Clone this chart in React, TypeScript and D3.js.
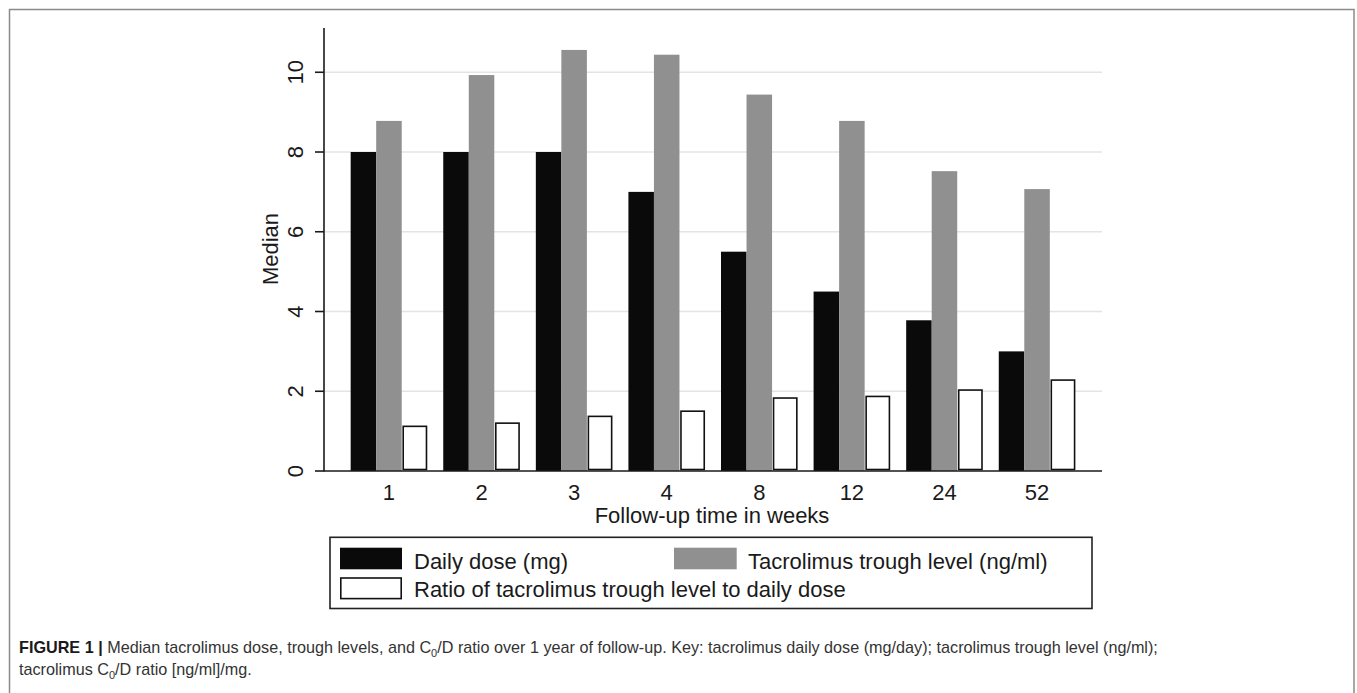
import React from 'react';
import * as d3 from 'd3';

const weeks = ['1', '2', '3', '4', '8', '12', '24', '52'];
const dailyDose = [8, 8, 8, 7, 5.5, 4.5, 3.78, 3];
const troughLevel = [8.78, 9.93, 10.56, 10.44, 9.44, 8.78, 7.52, 7.07];
const ratioLevel = [1.12, 1.2, 1.37, 1.5, 1.83, 1.87, 2.03, 2.28];
const yTicks = [0, 2, 4, 6, 8, 10];
const seriesKeys = ['dose', 'trough', 'ratio'];
const seriesLabels = [
  'Daily dose (mg)',
  'Tacrolimus trough level (ng/ml)',
  'Ratio of tacrolimus trough level to daily dose',
];
const seriesValues = [dailyDose, troughLevel, ratioLevel];
const seriesFill = ['#0a0a0a', '#909090', '#ffffff'];

const W = 1357;
const H = 693;
const FONT = '"Liberation Sans", Arial, sans-serif';

export default function App() {
  const x0 = d3
    .scaleBand<string>()
    .domain(weeks)
    .range([324, 1102])
    .paddingInner(0.173)
    .paddingOuter(0.288);
  const x1 = d3
    .scaleBand<string>()
    .domain(seriesKeys)
    .range([0, x0.bandwidth()])
    .padding(0);
  const y = d3.scaleLinear().domain([0, 11.1]).range([471, 28.4]);

  const plotLeft = 324;
  const plotRight = 1102;

  return (
    <svg
      width={W}
      height={H}
      viewBox={`0 0 ${W} ${H}`}
      style={{ position: 'absolute', left: 0, top: 0, background: '#fff' }}
      fontFamily={FONT}
    >
      <rect x={0} y={0} width={W} height={H} fill="#fff" />
      {/* outer frame */}
      <rect x={9.5} y={9.5} width={1344.5} height={800} fill="none" stroke="#8a8a8a" strokeWidth={1.5} />

      {/* gridlines */}
      {yTicks
        .filter((t) => t > 0)
        .map((t) => (
          <line key={`g${t}`} x1={plotLeft + 1} x2={plotRight} y1={y(t)} y2={y(t)} stroke="#e4e4e4" strokeWidth={1.5} />
        ))}

      {/* bars */}
      {weeks.map((w, i) => (
        <g key={w} transform={`translate(${x0(w)},0)`}>
          {seriesKeys.map((k, si) => {
            const v = seriesValues[si][i];
            const bx = x1(k)!;
            const bw = x1.bandwidth();
            if (k === 'ratio') {
              return (
                <rect
                  key={k}
                  x={bx + 1.5}
                  y={y(v)}
                  width={bw - 2.25}
                  height={y(0) - y(v) - 1.5}
                  fill="#fff"
                  stroke="#111"
                  strokeWidth={1.6}
                />
              );
            }
            return (
              <rect key={k} x={bx} y={y(v)} width={bw} height={y(0) - y(v)} fill={seriesFill[si]} />
            );
          })}
        </g>
      ))}

      {/* axes */}
      <line x1={plotLeft} x2={plotLeft} y1={28} y2={471.5} stroke="#1a1a1a" strokeWidth={1.6} />
      <line x1={plotLeft} x2={plotRight} y1={471} y2={471} stroke="#1a1a1a" strokeWidth={1.6} />
      {yTicks.map((t) => (
        <g key={`t${t}`}>
          <line x1={315} x2={plotLeft} y1={y(t)} y2={y(t)} stroke="#1a1a1a" strokeWidth={1.6} />
          <text
            transform={`translate(303,${y(t)}) rotate(-90)`}
            textAnchor="middle"
            fontSize={22}
            fill="#1a1a1a"
          >
            {t}
          </text>
        </g>
      ))}
      <text transform="translate(278,249) rotate(-90)" textAnchor="middle" fontSize={22} fill="#1a1a1a">
        Median
      </text>

      {weeks.map((w) => (
        <text key={`xl${w}`} x={x0(w)! + x0.bandwidth() / 2} y={499.5} textAnchor="middle" fontSize={22} fill="#1a1a1a">
          {w}
        </text>
      ))}
      <text x={712} y={522.5} textAnchor="middle" fontSize={22} fill="#1a1a1a">
        Follow-up time in weeks
      </text>

      {/* legend */}
      <rect x={330} y={537.3} width={762} height={71.2} fill="#fff" stroke="#222" strokeWidth={1.6} />
      <rect x={340} y={547.7} width={62} height={21.6} fill={seriesFill[0]} />
      <text x={414} y={568.5} fontSize={22} fill="#1a1a1a">
        {seriesLabels[0]}
      </text>
      <rect x={674} y={547.7} width={62.7} height={21.6} fill={seriesFill[1]} />
      <text x={748} y={568.5} fontSize={22} fill="#1a1a1a">
        {seriesLabels[1]}
      </text>
      <rect x={340.8} y={578} width={60.4} height={20.6} fill="#fff" stroke="#111" strokeWidth={1.6} />
      <text x={414} y={596.5} fontSize={22} fill="#1a1a1a">
        {seriesLabels[2]}
      </text>

      {/* caption */}
      <text x={19} y={653} fontSize={16.2} fill="#333">
        <tspan fontWeight="bold" fill="#1a1a1a">FIGURE 1 |</tspan>
        <tspan> Median tacrolimus dose, trough levels, and C</tspan>
        <tspan fontSize={11} dy={4}>0</tspan>
        <tspan dy={-4}>/D ratio over 1 year of follow-up. Key: tacrolimus daily dose (mg/day); tacrolimus trough level (ng/ml);</tspan>
      </text>
      <text x={19} y={675} fontSize={16.2} fill="#333">
        <tspan>tacrolimus C</tspan>
        <tspan fontSize={11} dy={4}>0</tspan>
        <tspan dy={-4}>/D ratio [ng/ml]/mg.</tspan>
      </text>
    </svg>
  );
}
